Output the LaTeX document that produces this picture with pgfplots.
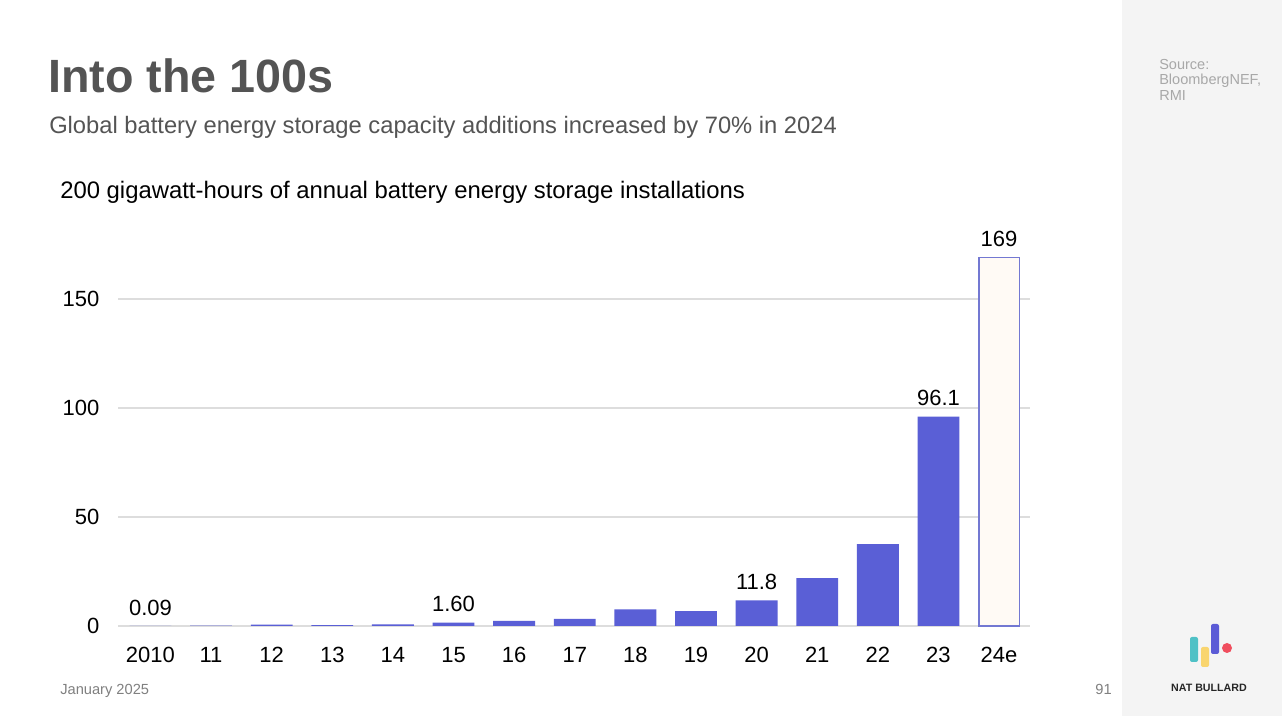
\documentclass[border=0pt]{standalone}
\usepackage{pgfplots}
\pgfplotsset{compat=1.18}
\usepackage{fontspec}
\setmainfont{Liberation Sans}
\definecolor{barblue}{HTML}{5A5FD6}
\definecolor{estfill}{HTML}{FFFAF5}
\definecolor{estedge}{HTML}{7378D2}
\definecolor{gridgray}{HTML}{DDDDDD}
\definecolor{titlegray}{HTML}{545454}
\definecolor{sidegray}{HTML}{F4F4F4}
\definecolor{srcgray}{HTML}{A8A8A8}
\definecolor{logoteal}{HTML}{4FC1C6}
\definecolor{logoyellow}{HTML}{F9D56E}
\definecolor{logopurple}{HTML}{5B5BD6}
\definecolor{logored}{HTML}{F04E5E}
\begin{document}
\begin{tikzpicture}[x=0.75pt,y=0.75pt]
% page: 1282 x 716 px, y measured from the bottom
\useasboundingbox (0,0) rectangle (1282,716);
\fill[white] (0,0) rectangle (1282,716);
\fill[sidegray] (1122,0) rectangle (1282,716);

\node[anchor=base west, inner sep=0pt, text=titlegray, font=\fontsize{35}{40}\selectfont\bfseries] at (48,623) {Into the 100s};
\node[anchor=base west, inner sep=0pt, text=titlegray, font=\fontsize{17.8}{20}\selectfont] at (49,582) {Global battery energy storage capacity additions increased by 70\% in 2024};
\node[anchor=base west, inner sep=0pt, text=black, font=\fontsize{17.9}{20}\selectfont] at (60,517) {200 gigawatt-hours of annual battery energy storage installations};

\node[anchor=north west, inner sep=0pt, text=srcgray, align=left, font=\fontsize{10.9}{11.6}\selectfont] at (1159,657) {Source:\\BloombergNEF,\\RMI};
\node[anchor=base west, inner sep=0pt, text=gray, font=\fontsize{11}{13}\selectfont] at (60,21) {January 2025};
\node[anchor=base east, inner sep=0pt, text=gray, font=\fontsize{11}{13}\selectfont] at (1112,21) {91};

% logo
\fill[logoteal, rounded corners=1.5pt] (1190,54) rectangle (1198,79);
\fill[logoyellow, rounded corners=1.5pt] (1201,49) rectangle (1209,69);
\fill[logopurple, rounded corners=1.5pt] (1211,62) rectangle (1219,92);
\fill[logored] (1227,68) circle (5);
\node[anchor=base, inner sep=0pt, font=\fontsize{8}{10}\selectfont\bfseries, text=black!85] at (1209,24) {NAT BULLARD};

\begin{axis}[
  at={(88.5pt,67.5pt)}, anchor=south west,
  scale only axis,
  width=684pt, height=286.1pt,
  xmin=-0.535, xmax=14.51,
  ymin=0, ymax=175,
  axis line style={draw=none},
  major tick length=0pt,
  ytick={0,50,100,150},
  ymajorgrids,
  grid style={gridgray, line width=0.8pt},
  xtick={0,...,14},
  xticklabels={2010,11,12,13,14,15,16,17,18,19,20,21,22,23,24e},
  tick label style={font=\fontsize{16.5}{20}\selectfont, text=black},
  /pgf/number format/assume math mode=true,
  xticklabel style={yshift=-12.5pt},
  yticklabel style={xshift=-10.5pt},
  clip=false,
  nodes near coords style={font=\fontsize{16.5}{20}\selectfont, text=black, yshift=4.2pt},
]
\addplot[ybar, bar shift=0pt, bar width=0.69, fill=barblue, draw=none,
  nodes near coords, point meta=explicit symbolic] coordinates {
  (0,0.09) [0.09]
  (1,0.2) []
  (2,0.6) []
  (3,0.4) []
  (4,0.7) []
  (5,1.60) [1.60]
  (6,2.4) []
  (7,3.3) []
  (8,7.6) []
  (9,6.8) []
  (10,11.8) [11.8]
  (11,22.0) []
  (12,37.6) []
  (13,96.1) [96.1]
};
\addplot[ybar, bar shift=0pt, bar width=0.67, fill=estfill, draw=estedge, line width=1.1pt,
  nodes near coords, point meta=explicit symbolic] coordinates {
  (14,169) [169]
};
\end{axis}
\end{tikzpicture}
\end{document}
